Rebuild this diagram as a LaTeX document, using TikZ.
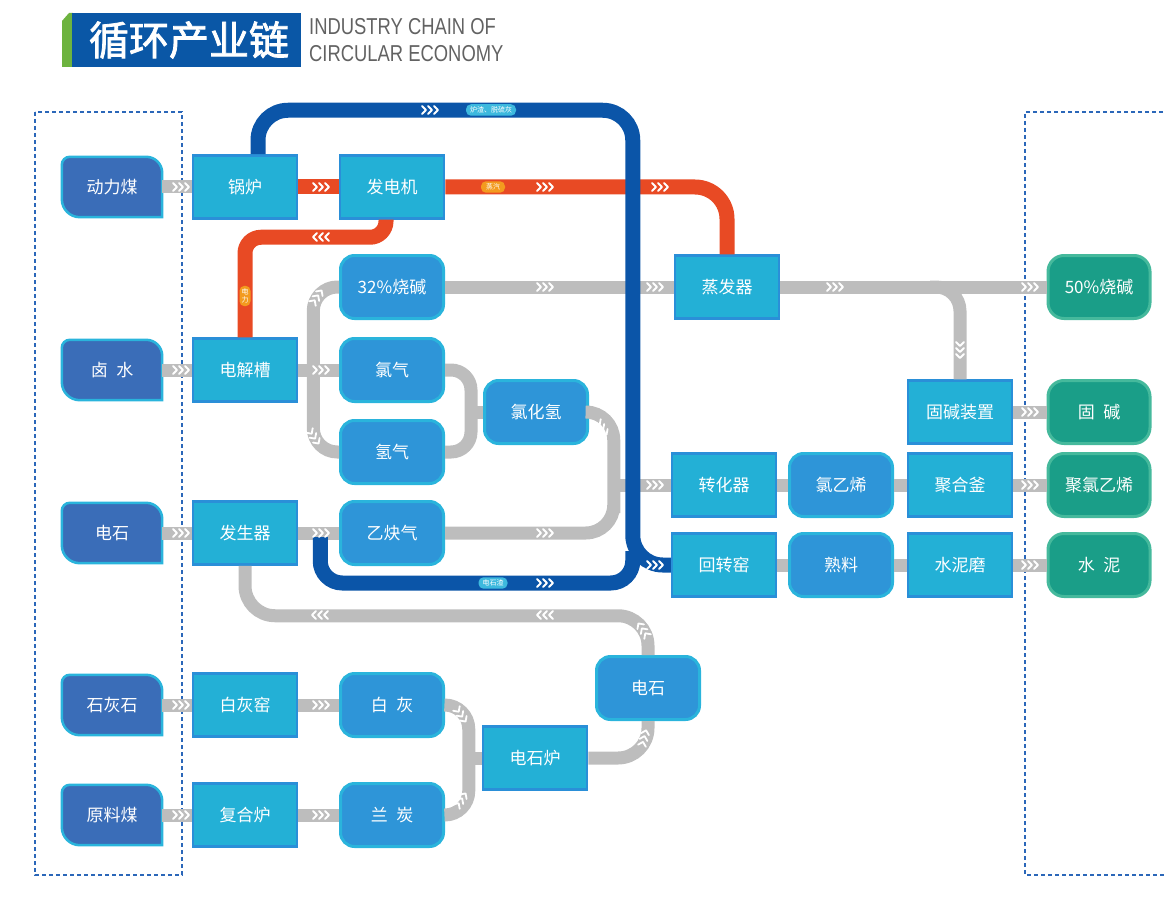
\documentclass[tikz,border=0pt]{standalone}
\usepackage{fontspec}
\setmainfont{Liberation Sans}
\newfontfamily\cjk{Noto Sans CJK SC}
\newfontfamily\cjkhead[FakeBold=2]{Noto Sans CJK SC}
\usetikzlibrary{positioning,calc,backgrounds}

\definecolor{srcblue}{HTML}{3A6DB8}
\definecolor{rimcyan}{HTML}{2AB4DC}
\definecolor{proccyan}{HTML}{23B0D6}
\definecolor{procrim}{HTML}{2A8FD8}
\definecolor{midblue}{HTML}{2E95D8}
\definecolor{prodgreen}{HTML}{1A9E88}
\definecolor{prodrim}{HTML}{45B99C}
\definecolor{pipegray}{HTML}{BDBDBD}
\definecolor{steamred}{HTML}{E84A24}
\definecolor{slagblue}{HTML}{0B55A8}
\definecolor{pillorange}{HTML}{F39B1F}
\definecolor{pillcyan}{HTML}{3DB9DE}
\definecolor{framedash}{HTML}{2B67B9}
\definecolor{titleblue}{HTML}{0A57A6}
\definecolor{titlegreen}{HTML}{6DB33F}
\definecolor{titlegray}{HTML}{626262}

\tikzset{
  box/.style={text=white, font=\cjk\fontsize{17}{17}\selectfont, minimum width=104, minimum height=63, inner sep=0},
  src/.style={box, minimum width=100, minimum height=60},
  proc/.style={box, fill=proccyan, draw=procrim, line width=2.5},
  mid/.style={box, fill=midblue, draw=rimcyan, line width=3, rounded corners=14, minimum width=103},
  prod/.style={box, fill=prodgreen, draw=prodrim, line width=3, rounded corners=16, minimum width=102},
  leaf/.style={fill=srcblue, draw=rimcyan, line width=2.5},
  pipe/.style={draw=pipegray, line width=13},
  steam/.style={draw=steamred, line width=15},
  slag/.style={draw=slagblue, line width=15},
  pill/.style={text=white, font=\cjk\fontsize{7}{8}\selectfont, rounded corners=5, inner xsep=4, inner ysep=2.5},
  chev/.pic={\foreach \i in {-6,0,6} \draw[white, line width=1.8, line cap=round, line join=round] (\i-2,-4) -- (\i+2,0) -- (\i-2,4);}
}

\begin{document}
\begin{tikzpicture}[x=1pt, y=-1pt]
    \useasboundingbox (0,0) rectangle (1166,909);
    % Title
    \fill[titlegreen] (62,21) -- (69,13) -- (73,13) -- (73,67) -- (62,67) -- cycle;
    \fill[titleblue] (72,13) rectangle (301,67);
    \node[text=white, font=\cjkhead\fontsize{40}{40}\selectfont] (title) at (189,40) {循环产业链};
    \node[text=titlegray, font=\fontsize{23}{23}\selectfont, anchor=west, inner sep=0] (subtitleA) at (309,27) {\scalebox{0.8}[1]{INDUSTRY CHAIN OF}};
    \node[text=titlegray, font=\fontsize{23}{23}\selectfont, anchor=west, inner sep=0] (subtitleB) at (309,54) {\scalebox{0.8}[1]{CIRCULAR ECONOMY}};
    % Input and output frames
    \draw[framedash, line width=1.6, dash pattern=on 4 off 3] (35,112) rectangle (182,875);
    \draw[framedash, line width=1.6, dash pattern=on 4 off 3] (1170,112) -- (1025,112) -- (1025,875) -- (1170,875);
    % Raw materials
    \node[src] (powercoal) at (112,187) {动力煤};
    \node[src] (brine) at (112,370) {卤\hspace{0.5em}水};
    \node[src] (carbidein) at (112,533) {电石};
    \node[src] (limestone) at (112,705) {石灰石};
    \node[src] (rawcoal) at (112,815) {原料煤};
    % Plants
    \node[proc] (boiler) at (245,187) {锅炉};
    \node[proc] (generator) at (392,187) {发电机};
    \node[proc] (cell) at (245,370) {电解槽};
    \node[proc] (acgen) at (245,533) {发生器};
    \node[proc] (limekiln) at (245,705) {白灰窑};
    \node[proc] (compfurn) at (245,815) {复合炉};
    \node[proc] (evap) at (727,287) {蒸发器};
    \node[proc] (solidunit) at (960,412) {固碱装置};
    \node[proc] (converter) at (724,485) {转化器};
    \node[proc] (reactor) at (960,485) {聚合釜};
    \node[proc] (kiln) at (724,565) {回转窑};
    \node[proc] (mill) at (960,565) {水泥磨};
    \node[proc] (arcfurn) at (535,758) {电石炉};
    % Intermediates
    \node[mid] (naoh32) at (392,287) {32\%烧碱};
    \node[mid] (chlorine) at (392,370) {氯气};
    \node[mid] (hydrogen) at (392,452) {氢气};
    \node[mid] (hcl) at (536,412) {氯化氢};
    \node[mid] (acetylene) at (392,533) {乙炔气};
    \node[mid] (vcm) at (841,485) {氯乙烯};
    \node[mid] (clinker) at (841,565) {熟料};
    \node[mid] (carbide) at (648,688) {电石};
    \node[mid] (lime) at (392,705) {白\hspace{0.5em}灰};
    \node[mid] (semicoke) at (392,815) {兰\hspace{0.5em}炭};
    % Products
    \node[prod] (naoh50) at (1099,287) {50\%烧碱};
    \node[prod] (solidnaoh) at (1099,412) {固\hspace{0.5em}碱};
    \node[prod] (pvc) at (1099,485) {聚氯乙烯};
    \node[prod] (cement) at (1099,565) {水\hspace{0.5em}泥};
    \begin{scope}[on background layer]
        \foreach \n in {powercoal,brine,carbidein,limestone,rawcoal}
            \draw[leaf] (\n.south east) -- ([yshift=-16pt]\n.north east) arc[start angle=0, end angle=90, radius=16pt]
                -- ([xshift=8pt]\n.north west) arc[start angle=90, end angle=180, radius=8pt]
                -- ([yshift=18pt]\n.south west) arc[start angle=180, end angle=270, radius=18pt] -- cycle;
    \end{scope}
    % Material flow
    \draw[pipe] (powercoal) -- (boiler);
    \draw[pipe] (brine) -- (cell);
    \draw[pipe] (carbidein) -- (acgen);
    \draw[pipe] (limestone) -- (limekiln);
    \draw[pipe] (rawcoal) -- (compfurn);
    \draw[pipe] (cell) -- (chlorine);
    \draw[pipe] (acgen) -- (acetylene);
    \draw[pipe] (limekiln) -- (lime);
    \draw[pipe] (compfurn) -- (semicoke);
    \draw[pipe] (naoh32) -- (evap);
    \draw[pipe] (evap) -- (naoh50);
    \draw[pipe] (solidunit) -- (solidnaoh);
    \draw[pipe] (converter) -- (vcm);
    \draw[pipe] (vcm) -- (reactor);
    \draw[pipe] (reactor) -- (pvc);
    \draw[pipe] (kiln) -- (clinker);
    \draw[pipe] (clinker) -- (mill);
    \draw[pipe] (mill) -- (cement);
    \coordinate (alkjoin) at ($(cell.east)+(15,0)$);
    \draw[pipe, rounded corners=24] (naoh32.west) -| (alkjoin) |- (hydrogen.west);
    \coordinate (hcljoin) at ($(hcl.west)+(-12,0)$);
    \draw[pipe, rounded corners=20] (chlorine.east) -| (hcljoin) |- (hydrogen.east);
    \draw[pipe] (hcljoin) -- (hcl.west);
    \coordinate (vcmjoin) at ($(converter.west)+(-57,0)$);
    \draw[pipe, rounded corners=28] (hcl.east) -| (vcmjoin) |- (acetylene.east);
    \draw[pipe] (vcmjoin) -- (converter.west);
    \coordinate (solidfork) at ($(solidunit.north |- evap.east)+(-30,0)$);
    \draw[pipe, rounded corners=24] (solidfork) -| (solidunit.north);
    \coordinate (furnjoin) at ($(arcfurn.west)+(-13,0)$);
    \draw[pipe, rounded corners=24] (lime.east) -| (furnjoin) |- (semicoke.east);
    \draw[pipe] (furnjoin) -- (arcfurn.west);
    \draw[pipe, rounded corners=30] (arcfurn.east) -| (carbide.south);
    \coordinate (returnbend) at ($(acgen.south)+(0,50)$);
    \draw[pipe, rounded corners=30] (carbide.north) |- (returnbend) -- (acgen.south);
    % Steam and power
    \draw[steam] (boiler) -- (generator);
    \draw[steam, rounded corners=32] (generator.east) -| (evap.north);
    \coordinate (powerbend) at ($(cell.north)+(0,-100)$);
    \draw[steam, rounded corners=16] ([xshift=-6]generator.south) |- (powerbend) -- (cell.north);
    % Slag to the kiln
    \coordinate (slagdrop) at ($(kiln.west)+(-38,0)$);
    \draw[slag, rounded corners=30] ([xshift=13]boiler.north) -- ++(0,-44) -| (slagdrop) -- (kiln.west);
    \draw[slag, rounded corners=22] ([xshift=22,yshift=-4]acgen.east) |- ($(slagdrop)+(0,18)$) -- ($(slagdrop)+(0,-14)$);
    % Chevrons
    \foreach \x/\y/\a in {181/187/0, 181/370/0, 181/533/0, 181/705/0, 181/815/0,
        321/370/0, 321/533/0, 321/705/0, 321/815/0, 317/297/55, 314/437/-55,
        545/287/0, 655/287/0, 835/287/0, 1030/287/0, 960/350/-90,
        1030/412/0, 1030/485/0, 1030/565/0, 602/428/-55, 655/485/0, 545/533/0,
        461/715/-55, 461/800/55, 644/738/75, 643/630/125, 545/615/180, 320/615/180,
        321/187/0, 321/237/180, 545/187/0, 660/187/0,
        430/110/0, 545/583/0, 655/565/0}
        \pic[rotate=\a] at (\x,\y) {chev};
    % Tags
    \node[pill, fill=pillcyan] (slagtag) at (491,110) {炉渣、脱硫灰};
    \node[pill, fill=pillorange, inner xsep=5] (steamtag) at (493,187) {蒸汽};
    \node[pill, fill=pillorange, align=center, inner xsep=2, inner ysep=3] (powertag) at (245,296) {电\\力};
    \node[pill, fill=pillcyan] (residuetag) at (493,583) {电石渣};
\end{tikzpicture}
\end{document}
